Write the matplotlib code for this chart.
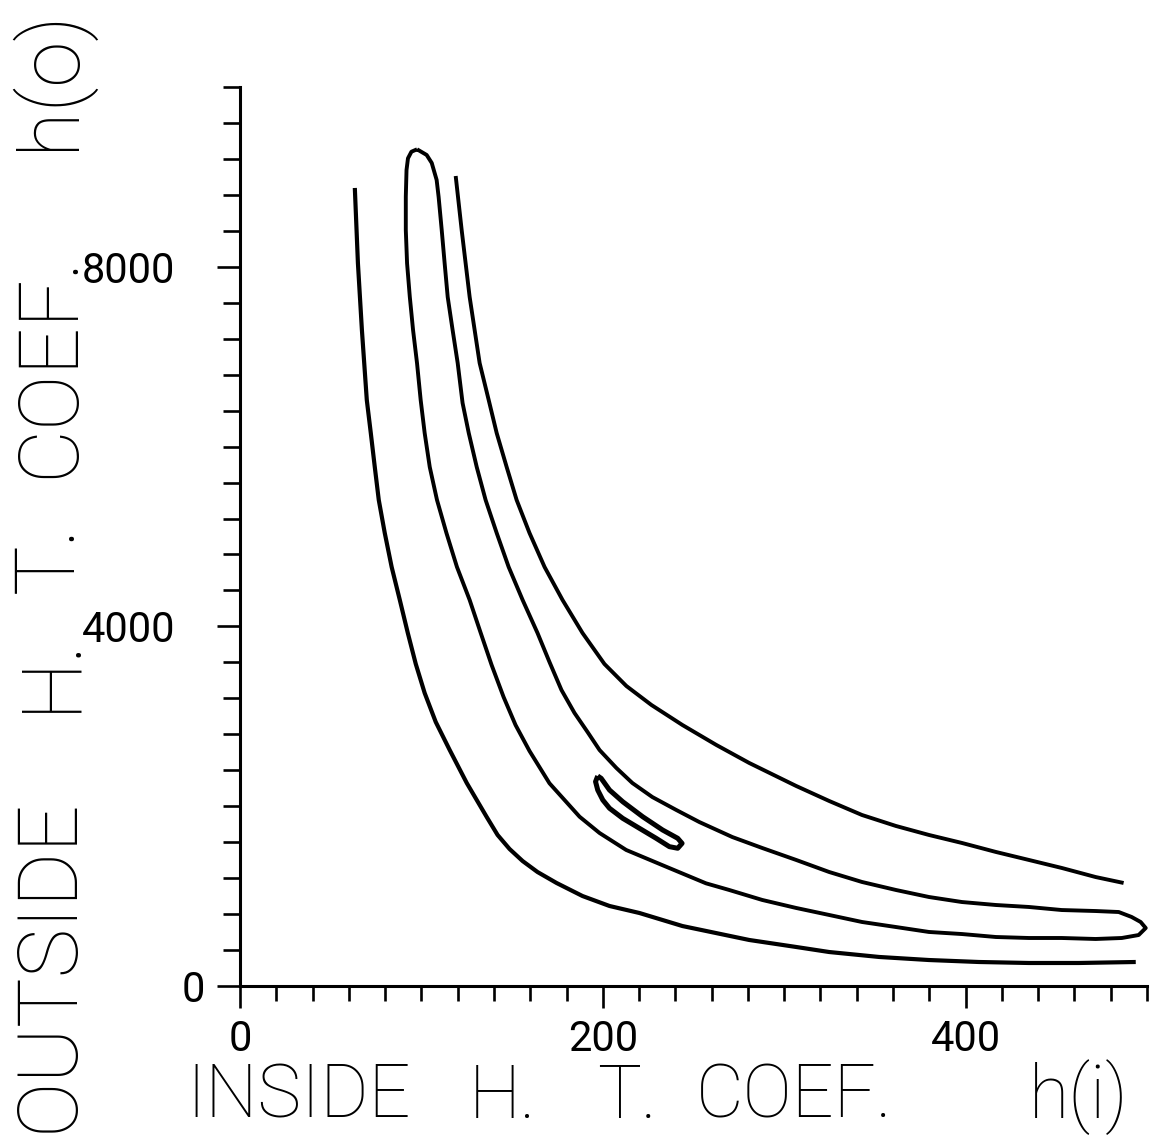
import matplotlib
matplotlib.use("Agg")
import matplotlib.pyplot as plt
import matplotlib.transforms as mtransforms
import numpy as np

FONT = ['Roboto', 'DejaVu Sans']

# contour lines: h(i) inside coef vs h(o) outside coef
outer_hi = [63.3, 65.0, 67.2, 69.9, 72.1, 74.3, 76.5, 79.8, 83.6, 88.1, 92.5, 96.9, 101.8,
            107.9, 115.6, 125.0, 136.0, 142.0, 148.6, 155.8, 164.0, 174.5, 188.8, 203.7,
            220.2, 243.9, 280.7, 306.6, 324.8, 352.3, 379.8, 407.3, 434.9, 462.4, 493.8]
outer_ho = [8877, 8042, 7297, 6518, 6151, 5773, 5406, 5039, 4661, 4294, 3927, 3582, 3259,
            2937, 2625, 2258, 1880, 1680, 1524, 1390, 1268, 1146, 1001, 890,
            812, 667, 512, 434, 378, 323, 289, 267, 256, 256, 267]

right_hi = [118.9, 122.2, 126.6, 132.1, 137.1, 141.5, 147.0, 152.5, 159.6, 167.9, 177.8,
            188.8, 200.9, 213.0, 226.8, 243.9, 262.6, 280.7, 306.6, 324.8, 342.9,
            361.6, 379.8, 398.0, 416.7, 434.9, 453.0, 471.7, 487.1]
right_ho = [9010, 8409, 7664, 6930, 6518, 6151, 5773, 5406, 5039, 4661, 4294,
            3927, 3582, 3337, 3126, 2903, 2681, 2481, 2225, 2058, 1902,
            1780, 1680, 1591, 1491, 1402, 1313, 1212, 1146]

# closed loop with the peak near h(i)=97
loop_hi = [97.6, 94.5, 92.6, 91.8, 91.4, 91.4, 92.1, 93.6, 95.4, 97.6, 99.6, 101.8, 104.6,
           108.6, 113.8, 119.6, 126.6, 132.7, 138.7, 145.3, 151.9, 159.6, 170.6,
           187.2, 198.2, 212.9, 234.9, 256.9, 269.7, 287.9, 306.6, 324.8, 342.9, 361.6,
           379.8, 398.0, 416.7, 434.9, 453.0, 471.7, 486.1, 495.4, 499.3, 496.5, 491.5,
           484.4, 471.7, 453.0, 434.9, 416.7, 398.0, 379.8, 361.6, 342.9, 324.8, 306.6,
           287.9, 271.4, 253.2, 240.5, 227.3, 216.3, 207.5, 198.2, 191.6, 184.4, 177.2,
           170.6, 164.0, 155.8, 148.1, 141.5, 135.4, 130.5, 126.1, 122.7, 120.0, 117.2,
           114.5, 112.8, 111.2, 109.5, 108.4, 105.7, 102.9, 97.6]
loop_ho = [9307, 9280, 9207, 9077, 8780, 8409, 8039, 7667, 7297, 6926, 6518, 6151, 5773,
           5406, 5039, 4661, 4294, 3927, 3571, 3215, 2903, 2614, 2255,
           1883, 1702, 1513, 1327, 1142, 1068, 957, 868, 790, 712, 656,
           601, 578, 545, 534, 534, 523, 534, 567, 645, 712, 768,
           823, 834, 845, 879, 901, 934, 990, 1068, 1157, 1268, 1402,
           1535, 1657, 1824, 1958, 2102, 2258, 2425, 2625, 2825, 3037, 3293,
           3604, 3927, 4294, 4661, 5039, 5406, 5773, 6151, 6485, 6930, 7297,
           7664, 8042, 8409, 8776, 8966, 9155, 9244, 9307]

# small inner island
island_hi = [197.2, 196.0, 197.2, 200.0, 203.7, 211.0, 220.2, 229.4, 236.7, 241.3, 243.7,
             241.3, 233.0, 222.0, 211.0, 203.7, 199.1, 197.2]
island_ho = [2336, 2273, 2180, 2069, 1977, 1865, 1754, 1643, 1550, 1532, 1587,
             1643, 1735, 1883, 2050, 2180, 2310, 2336]

x_major = [0, 200, 400]
x_labels = ['0', '200', '400']
y_major = [0, 4000, 8000]
y_labels = ['0', '4000', '8000']

fig = plt.figure(figsize=(11.55, 11.37), dpi=100)
ax = fig.add_axes([240 / 1155, 1 - 986 / 1137, (1147 - 240) / 1155, (986 - 87) / 1137])

for hi, ho, lw in [(outer_hi, outer_ho, 3.0), (right_hi, right_ho, 2.8),
                   (loop_hi, loop_ho, 2.8), (island_hi, island_ho, 3.6)]:
    ax.plot(hi, ho, color='black', lw=lw, solid_capstyle='butt',
            solid_joinstyle='round', clip_on=False)

ax.set_xlim(0, 500)
ax.set_ylim(0, 10000)
for s in ['top', 'right']:
    ax.spines[s].set_visible(False)
for s in ['left', 'bottom']:
    ax.spines[s].set_linewidth(2.2)

ax.set_xticks(x_major)
ax.set_xticklabels(x_labels)
ax.set_xticks(np.arange(0, 501, 20), minor=True)
ax.set_yticks(y_major)
ax.set_yticklabels(y_labels)
ax.set_yticks(np.arange(0, 10001, 400), minor=True)

ax.tick_params(axis='x', which='major', length=16, width=1.9, pad=8, labelsize=30)
ax.tick_params(axis='x', which='minor', length=11, width=1.9)
ax.tick_params(axis='y', which='major', length=16.5, width=1.9, pad=30, labelsize=30)
ax.tick_params(axis='y', which='minor', length=12, width=1.9)
for lab in ax.get_xticklabels() + ax.get_yticklabels():
    lab.set_family(FONT)

# the zero on the y axis sits closer to the axis
zero = ax.get_yticklabels()[0]
zero.set_transform(zero.get_transform() + mtransforms.ScaledTranslation(0.3, 0, fig.dpi_scale_trans))

W, H = 1155, 1137
x_words = [('INSIDE', 186), ('H.', 469), ('T.', 597), ('COEF.', 696), ('h(i)', 1029)]
for word, px in x_words:
    fig.text(px / W, 1 - 1118 / H, word, fontsize=53, family=FONT, fontweight='light',
             ha='left', va='baseline')

y_words = [('OUTSIDE', 1132), ('H.', 712), ('T.', 593), ('COEF.', 478), ('h(o)', 150)]
for word, py in y_words:
    fig.text(73 / W, 1 - py / H, word, fontsize=60, family=FONT, fontweight='light',
             rotation=90, rotation_mode='anchor', ha='left', va='baseline')

fig.savefig('out.png', dpi=100, facecolor='white')
